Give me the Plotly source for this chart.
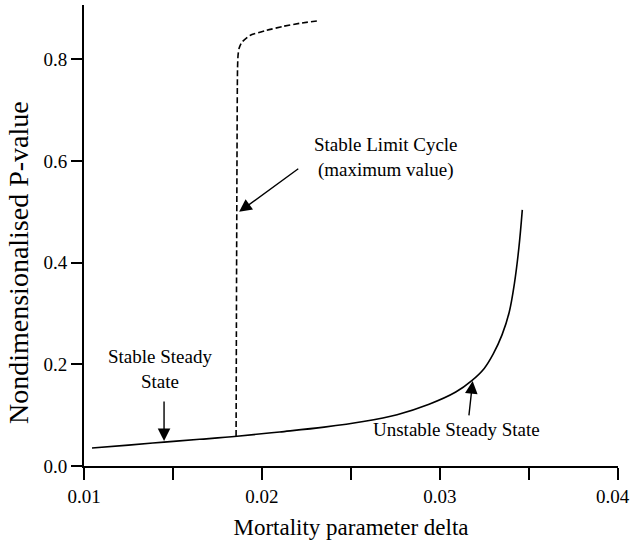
import plotly.graph_objects as go

# Solid curve: steady state branch
steady_x = [0.01045, 0.0125, 0.0145, 0.0165, 0.0186, 0.0210, 0.0235, 0.0257,
            0.0276, 0.0294, 0.0309, 0.0318, 0.0325, 0.0330, 0.0335,
            0.0339, 0.0342, 0.03445, 0.03464]
steady_y = [0.0355, 0.0410, 0.0470, 0.0525, 0.0585, 0.0670, 0.0765, 0.0875,
            0.1010, 0.1215, 0.1455, 0.1680, 0.1920, 0.2200, 0.2580,
            0.3020, 0.3600, 0.4300, 0.5040]

# Dashed curve: stable limit cycle (maximum value)
cycle_x = [0.01855, 0.01857, 0.01860, 0.01863, 0.01866, 0.01872, 0.01886,
           0.01933, 0.02026, 0.02120, 0.02213, 0.02316]
cycle_y = [0.0585, 0.30, 0.60, 0.78, 0.808, 0.822, 0.833,
           0.847, 0.857, 0.865, 0.871, 0.876]

x_tickvals = [0.01, 0.015, 0.02, 0.025, 0.03, 0.035, 0.04]
x_ticktext = ["0.01", "", "0.02", "", "0.03", "", ""]
last_x_label = "0.04"   # drawn right-aligned so it stays inside the page
y_tickvals = [0.0, 0.2, 0.4, 0.6, 0.8]
y_ticktext = ["0.0", "0.2", "0.4", "0.6", "0.8"]

FONT = "Liberation Serif, Times New Roman, serif"

fig = go.Figure()
fig.add_trace(go.Scatter(x=steady_x, y=steady_y, mode="lines",
                         line=dict(color="black", width=1.6, shape="spline", smoothing=1.0),
                         showlegend=False, hoverinfo="skip"))
fig.add_trace(go.Scatter(x=cycle_x, y=cycle_y, mode="lines",
                         line=dict(color="black", width=1.6, dash="6px,3px", shape="spline", smoothing=0.6),
                         showlegend=False, hoverinfo="skip"))

arrows = [
    # (head_x, head_y, tail_x, tail_y)
    (0.01872, 0.500, 0.02213, 0.587),
    (0.0145, 0.049, 0.0145, 0.130),
    (0.03185, 0.167, 0.03163, 0.0966),
]
for hx, hy, tx, ty in arrows:
    fig.add_annotation(x=hx, y=hy, ax=tx, ay=ty, xref="x", yref="y", axref="x", ayref="y",
                       text="", showarrow=True, arrowhead=2, arrowsize=1.8, arrowwidth=1.4,
                       arrowcolor="black", standoff=0)

labels = [
    ("Stable Limit Cycle<br>(maximum value)", 0.02697, 0.607),
    ("Stable Steady<br>State", 0.01427, 0.191),
    ("Unstable Steady State", 0.03096, 0.071),
]
for txt, lx, ly in labels:
    fig.add_annotation(x=lx, y=ly, xref="x", yref="y", text=txt, showarrow=False,
                       xanchor="center", yanchor="middle",
                       font=dict(family=FONT, size=19, color="black"))

# last x tick label, kept inside the page edge
fig.add_annotation(x=1.0243, y=-0.0651, xref="paper", yref="paper", text=last_x_label,
                   showarrow=False, xanchor="right", yanchor="middle", borderpad=0,
                   font=dict(family=FONT, size=19, color="black"))

# y-axis title as rotated annotation
fig.add_annotation(x=-0.1236, y=0.4425, xref="paper", yref="paper",
                   text="Nondimensionalised P-value", showarrow=False, textangle=-90,
                   xanchor="center", yanchor="middle",
                   font=dict(family=FONT, size=28, color="black"))

fig.update_layout(
    width=631, height=548,
    margin=dict(l=84, r=13, t=5, b=82, autoexpand=False),
    paper_bgcolor="white", plot_bgcolor="white",
    font=dict(family=FONT, color="black"),
    xaxis=dict(range=[0.01, 0.04002], tickvals=x_tickvals, ticktext=x_ticktext,
               ticks="outside", ticklen=12, tickwidth=2, tickcolor="black",
               automargin=False,
               showline=True, linewidth=2, linecolor="black", showgrid=False, zeroline=False,
               tickfont=dict(family=FONT, size=19, color="black"),
               title=dict(text="Mortality parameter delta", standoff=13,
                          font=dict(family=FONT, size=23, color="black"))),
    yaxis=dict(range=[0, 0.907], tickvals=y_tickvals, ticktext=y_ticktext,
               ticks="outside", ticklen=11, tickwidth=2, tickcolor="black",
               automargin=False,
               showline=True, linewidth=2, linecolor="black", showgrid=False, zeroline=False,
               tickfont=dict(family=FONT, size=19, color="black")),
)

fig.write_html("out.html")
